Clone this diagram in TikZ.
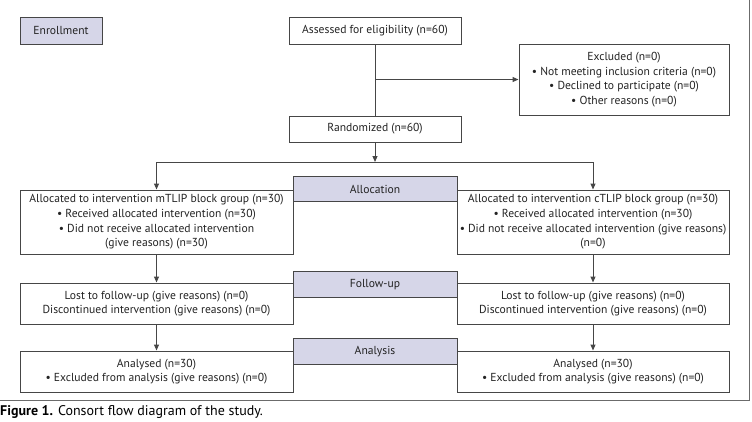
\documentclass[tikz,border=0pt]{standalone}
\usepackage{fontspec}
\setmainfont{PT Sans}
\definecolor{PhaseFill}{RGB}{214, 214, 232}
\definecolor{LineGray}{RGB}{70, 70, 70}
\definecolor{TextGray}{RGB}{35, 35, 35}
\usetikzlibrary{arrows.meta, positioning, calc}

\begin{document}
\begin{tikzpicture}[
        x=1pt, y=-1pt,
        box/.style={rectangle, draw=LineGray, line width=1pt, fill=white, inner sep=0pt, align=center,
            font=\fontsize{11.6}{14.6}\selectfont, text=TextGray},
        phase/.style={box, fill=PhaseFill, minimum width=164pt, minimum height=25.5pt},
        arrow/.style={-{Triangle[length=6pt, width=5pt]}, line width=1pt, LineGray}
    ]
        \useasboundingbox (0,0) rectangle (752,421);

        % Enrollment
        \node[box, fill=PhaseFill, minimum width=82pt, minimum height=27pt] (enroll) at (61, 30.5) {Enrollment};
        \node[box, minimum width=172pt, minimum height=27pt] (assessed) at (375, 30.5) {Assessed for eligibility (n=60)};
        \node[box, minimum width=210pt, minimum height=71pt] (excluded) at (624, 79.5)
            {Excluded (n=0)\\ • Not meeting inclusion criteria (n=0)\\ • Declined to participate (n=0)\\ • Other reasons (n=0)};
        \node[box, minimum width=172pt, minimum height=26pt] (random) at (375, 129) {Randomized (n=60)};
        \coordinate (branch) at (assessed.south |- excluded.west);
        \coordinate (split) at (375, 162);
        \draw[LineGray, line width=1pt] (assessed) -- (random);
        \draw[arrow] (branch) -- (excluded.west);
        \draw[arrow] (random) -- (split);

        % Allocation
        \node[phase] (allocation) at (375, 189) {Allocation};
        \node[box, minimum width=273pt, minimum height=64pt] (allocL) at (156.5, 222)
            {Allocated to intervention mTLIP block group (n=30)\\ • Received allocated intervention (n=30)\\
             • Did not receive allocated intervention\\ (give reasons) (n=30)};
        \node[box, minimum width=272pt, minimum height=64pt] (allocR) at (593, 222)
            {Allocated to intervention cTLIP block group (n=30)\\ • Received allocated intervention (n=30)\\
             • Did not receive allocated intervention (give reasons)\\ (n=0)};
        \draw[arrow] (split) -| (allocL.north);
        \draw[arrow] (split) -| (allocR.north);

        % Follow-up
        \node[phase] (followup) at (375, 284.5) {Follow-up};
        \node[box, minimum width=273pt, minimum height=41pt] (followL) at (156.5, 303.5)
            {Lost to follow-up (give reasons) (n=0)\\ Discontinued intervention (give reasons) (n=0)};
        \node[box, minimum width=272pt, minimum height=41pt] (followR) at (593, 303.5)
            {Lost to follow-up (give reasons) (n=0)\\ Discontinued intervention (give reasons) (n=0)};
        \draw[arrow] (allocL) -- (followL);
        \draw[arrow] (allocR) -- (followR);

        % Analysis
        \node[phase] (analysis) at (375, 351.5) {Analysis};
        \node[box, minimum width=273pt, minimum height=41pt] (anaL) at (156.5, 371.5)
            {Analysed (n=30)\\ • Excluded from analysis (give reasons) (n=0)};
        \node[box, minimum width=272pt, minimum height=41pt] (anaR) at (593, 371.5)
            {Analysed (n=30)\\ • Excluded from analysis (give reasons) (n=0)};
        \draw[arrow] (followL) -- (anaL);
        \draw[arrow] (followR) -- (anaR);

        % frame and caption
        \draw[LineGray!80, line width=1pt] (0, 400) -- (749, 400) -- (749, 0);
        \node[anchor=west, inner sep=0pt, text=black, font=\fontsize{14}{16}\selectfont] (caption) at (0, 412)
            {\textbf{Figure 1.} Consort flow diagram of the study.};
    \end{tikzpicture}
\end{document}
